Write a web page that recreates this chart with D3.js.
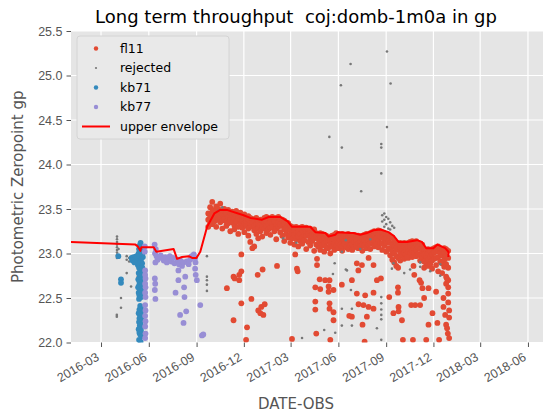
<!DOCTYPE html>
<html>
<head>
<meta charset="utf-8">
<script src="https://cdn.jsdelivr.net/npm/d3@7"></script>
<style>
  body { margin: 0; background: #fff; }
  svg { font-family: "DejaVu Sans", sans-serif; }
  .grid line { stroke: #fff; stroke-width: 1.2; }
  .tick-label { fill: #555; font-size: 12.5px; }
  .title { white-space: pre; }
</style>
</head>
<body>
<script>
const WIDTH = 543;
const HEIGHT = 419;
const LEFT = 71, RIGHT = 543, TOP = 31, BOTTOM = 342.5;

// dates are decimal years
var xDomain = [2016.006, 2018.493];
var yDomain = [22.0, 25.5];
var yTicks = [22.0, 22.5, 23.0, 23.5, 24.0, 24.5, 25.0, 25.5];
var xTickLabels = ['2016-03','2016-06','2016-09','2016-12','2017-03','2017-06','2017-09','2017-12','2018-03','2018-06'];

var envelope = [
  [2016.006,23.13],[2016.345,23.10],[2016.357,23.08],[2016.371,23.03],[2016.376,23.07],
  [2016.441,23.07],[2016.455,23.02],[2016.546,23.05],[2016.564,22.94],[2016.590,22.96],
  [2016.625,22.97],[2016.643,22.95],[2016.666,22.95],[2016.686,23.02],[2016.722,23.30],
  [2016.760,23.45],[2016.791,23.49],[2016.826,23.49],[2016.914,23.43],[2016.949,23.40],
  [2017.011,23.38],[2017.046,23.41],[2017.107,23.41],[2017.146,23.36],[2017.169,23.30],
  [2017.265,23.30],[2017.292,23.24],[2017.345,23.23],[2017.362,23.19],[2017.397,23.21],
  [2017.410,23.24],[2017.476,23.23],[2017.493,23.23],[2017.529,23.21],[2017.564,23.23],
  [2017.599,23.26],[2017.635,23.27],[2017.678,23.24],[2017.705,23.20],[2017.731,23.13],
  [2017.775,23.13],[2017.828,23.15],[2017.854,23.13],[2017.877,23.06],[2017.915,23.06],
  [2017.936,23.10],[2017.977,23.06],[2017.994,23.02],[2017.994,22.96]
];

// fl11: nights in the main band, several exposures per night
var fl11Nights = [
  [2016.728,[23.45,23.38,23.30]],[2016.738,[23.52,23.42,23.34]],[2016.749,[23.58,23.47,23.40,23.33]],
  [2016.760,[23.49,23.44,23.36]],[2016.770,[23.53,23.46,23.41,23.30]],[2016.781,[23.50,23.43,23.38]],
  [2016.791,[23.56,23.47,23.40,23.35]],[2016.802,[23.48,23.44,23.37,23.28]],[2016.812,[23.50,23.42,23.39]],
  [2016.823,[23.47,23.45,23.36,23.31]],[2016.833,[23.49,23.41,23.34]],[2016.844,[23.46,23.40,23.38,23.25]],
  [2016.854,[23.47,23.43,23.35]],[2016.865,[23.45,23.39,23.32,23.27]],[2016.875,[23.48,23.42,23.36]],
  [2016.886,[23.44,23.40,23.30,23.22]],[2016.897,[23.46,23.38,23.33]],[2016.907,[23.43,23.37,23.29]],
  [2016.918,[23.44,23.40,23.34,23.24]],[2016.928,[23.41,23.36,23.31]],[2016.939,[23.42,23.38,23.28,23.20]],
  [2016.949,[23.40,23.34,23.13]],[2016.960,[23.39,23.35,23.30,23.06]],[2016.970,[23.38,23.31,23.26,23.08]],
  [2016.981,[23.40,23.33,23.22]],[2016.991,[23.37,23.34,23.28,23.17]],[2017.002,[23.38,23.32,23.25]],
  [2017.012,[23.37,23.30,23.19]],[2017.023,[23.40,23.35,23.28]],[2017.034,[23.41,23.36,23.31,23.23]],
  [2017.044,[23.40,23.33,23.27]],[2017.055,[23.39,23.35,23.29,23.21]],[2017.065,[23.41,23.34,23.30]],
  [2017.076,[23.38,23.36,23.25]],[2017.086,[23.40,23.32,23.28,23.16]],[2017.097,[23.41,23.35,23.30]],
  [2017.107,[23.39,23.33,23.24]],[2017.118,[23.38,23.31,23.20]],[2017.128,[23.37,23.33,23.27,23.14]],
  [2017.139,[23.35,23.29,23.22]],[2017.149,[23.34,23.27,23.18]],[2017.160,[23.31,23.26,23.20,23.12]],
  [2017.170,[23.30,23.24,23.17]],[2017.181,[23.29,23.26,23.21,23.10]],[2017.191,[23.30,23.23,23.16]],
  [2017.202,[23.28,23.25,23.19,23.08]],[2017.213,[23.29,23.22,23.14]],[2017.223,[23.30,23.26,23.18,23.11]],
  [2017.234,[23.28,23.21,23.15]],[2017.244,[23.29,23.24,23.20,23.05]],[2017.255,[23.27,23.22,23.13]],
  [2017.265,[23.28,23.25,23.18,23.09]],[2017.276,[23.26,23.20,23.14]],[2017.286,[23.27,23.22,23.17,23.03]],
  [2017.297,[23.23,23.19,23.10]],[2017.307,[23.22,23.16,23.08]],[2017.318,[23.23,23.18,23.12,23.04]],
  [2017.329,[23.22,23.15,23.09]],[2017.339,[23.21,23.17,23.11,23.02]],[2017.350,[23.20,23.14,23.07]],
  [2017.360,[23.18,23.13,23.06]],[2017.371,[23.19,23.15,23.10,23.00]],[2017.381,[23.20,23.14,23.08]],
  [2017.392,[23.21,23.16,23.11,23.04]],[2017.402,[23.23,23.17,23.09]],[2017.413,[23.22,23.18,23.12,23.06]],
  [2017.424,[23.21,23.15,23.10]],[2017.434,[23.22,23.17,23.08,23.03]],[2017.445,[23.20,23.14,23.11]],
  [2017.455,[23.21,23.16,23.07]],[2017.466,[23.22,23.18,23.12,23.05]],[2017.476,[23.21,23.15,23.09]],
  [2017.487,[23.20,23.16,23.10,23.04]],[2017.497,[23.21,23.13,23.07]],[2017.508,[23.19,23.14,23.09]],
  [2017.518,[23.20,23.15,23.11,23.06]],[2017.529,[23.18,23.13,23.08]],[2017.540,[23.20,23.16,23.10,23.03]],
  [2017.550,[23.21,23.15,23.09]],[2017.561,[23.22,23.17,23.12,23.06]],[2017.571,[23.21,23.14,23.10]],
  [2017.582,[23.23,23.18,23.11,23.05]],[2017.592,[23.24,23.19,23.13]],[2017.603,[23.25,23.20,23.15,23.08]],
  [2017.613,[23.23,23.17,23.10]],[2017.624,[23.26,23.21,23.14,23.07]],[2017.635,[23.25,23.19,23.12]],
  [2017.645,[23.24,23.18,23.11,23.04]],[2017.656,[23.23,23.16,23.09]],[2017.666,[23.22,23.17,23.12,23.02]],
  [2017.677,[23.21,23.14,23.06]],[2017.687,[23.19,23.12,23.05,22.98]],[2017.698,[23.18,23.10,23.02,22.93]],
  [2017.708,[23.15,23.08,23.00,22.90]],[2017.719,[23.12,23.06,22.97,22.86]],[2017.729,[23.11,23.04,22.95,22.84]],
  [2017.740,[23.12,23.07,23.00,22.92]],[2017.750,[23.11,23.05,22.98]],[2017.761,[23.12,23.08,23.01,22.94]],
  [2017.771,[23.11,23.04,22.99]],[2017.782,[23.12,23.07,23.02,22.95]],[2017.792,[23.13,23.08,23.00]],
  [2017.803,[23.14,23.09,23.03,22.96]],[2017.813,[23.13,23.06,23.01]],[2017.824,[23.14,23.10,23.04,22.97]],
  [2017.834,[23.12,23.07,22.99]],[2017.845,[23.11,23.05,22.98,22.92]],[2017.856,[23.10,23.03,22.95]],
  [2017.866,[23.05,22.99,22.91,22.84]],[2017.877,[23.04,22.97,22.89]],[2017.887,[23.05,23.00,22.93,22.86]],
  [2017.898,[23.03,22.96,22.88]],[2017.908,[23.05,22.99,22.92,22.83]],[2017.919,[23.06,23.01,22.94]],
  [2017.929,[23.07,23.02,22.95,22.87]],[2017.940,[23.08,23.03,22.96,22.80]],[2017.951,[23.06,23.00,22.91]],
  [2017.961,[23.05,22.98,22.89,22.78]],[2017.972,[23.06,23.01,22.93,22.85]],
  [2017.982,[23.05,22.97,22.88,22.74,22.66]],[2017.993,[23.03,22.95,22.84,22.70,22.62,22.55,22.45]]
];

// fl11: exposures well below the band
var fl11Low = [
  [2016.826,22.61],[2016.861,22.74],[2016.861,22.25],[2016.867,22.72],[2016.891,22.70],[2016.891,22.76],
  [2016.902,22.99],[2016.902,22.80],[2016.902,22.44],[2016.932,22.17],[2016.927,22.03],[2016.955,22.49],
  [2016.988,22.76],[2017.014,22.82],[2016.991,22.36],[2017.002,22.33],[2017.007,22.40],[2017.018,22.31],
  [2017.025,22.43],[2017.090,22.86],[2017.169,22.04],[2017.186,22.99],[2017.195,22.83],[2017.199,22.80],
  [2017.301,22.94],[2017.301,22.87],[2017.315,22.71],[2017.292,22.62],[2017.318,22.60],[2017.292,22.46],
  [2017.292,22.37],[2017.297,22.10],[2017.344,22.70],[2017.367,22.70],[2017.362,22.63],[2017.362,22.57],
  [2017.367,22.44],[2017.367,22.38],[2017.388,22.59],[2017.388,22.34],[2017.388,22.25],[2017.371,22.03],
  [2017.432,22.65],[2017.511,22.89],[2017.519,22.81],[2017.538,22.87],[2017.485,22.70],[2017.485,22.29],
  [2017.471,22.30],[2017.511,22.55],[2017.555,22.53],[2017.546,22.42],[2017.520,22.43],[2017.573,22.40],
  [2017.599,22.38],[2017.599,22.56],[2017.599,22.87],[2017.573,22.95],[2017.617,22.70],[2017.638,22.72],
  [2017.541,22.20],[2017.564,22.29],[2017.552,22.01],[2017.682,22.51],[2017.704,22.33],[2017.728,22.62],
  [2017.728,22.56],[2017.731,22.40],[2017.731,22.35],[2017.749,22.25],[2017.754,22.03],[2017.775,22.96],
  [2017.810,22.86],[2017.814,22.76],[2017.798,22.42],[2017.819,22.42],[2017.845,22.42],[2017.807,22.03],
  [2017.842,22.70],[2017.850,22.67],[2017.857,22.61],[2017.866,22.50],[2017.889,22.61],[2017.877,22.03],
  [2017.889,22.20],[2017.910,22.33],[2017.929,22.57],[2017.936,22.22],[2017.945,22.03],[2017.968,22.40],
  [2017.977,22.31],[2017.982,22.20],[2017.991,22.10],[2017.986,22.72],[2017.968,22.50],[2017.998,22.36],
  [2017.998,22.28],[2017.987,22.16],[2017.998,22.05]
];

var rejected = [
  [2016.248,23.19],[2016.248,23.16],[2016.248,23.13],[2016.248,23.10],[2016.248,23.07],[2016.248,23.04],
  [2016.248,23.01],[2016.248,22.98],[2016.248,22.95],[2016.256,23.05],[2016.256,22.96],[2016.269,22.69],
  [2016.269,22.66],[2016.269,22.50],[2016.269,22.39],[2016.247,22.31],[2016.247,22.29],[2016.299,22.78],
  [2016.299,22.97],[2016.299,22.93],[2016.312,22.95],[2016.312,22.91],[2016.322,22.63],[2016.322,22.96],
  [2016.322,22.92],[2016.338,22.94],[2016.357,22.74],[2016.364,22.80],[2016.364,22.55],
  [2016.721,22.97],[2016.721,22.74],[2016.721,22.70],[2016.721,22.65],[2016.721,22.58],
  [2016.781,23.48],[2016.802,23.52],[2017.122,23.17],[2017.192,23.12],[2017.222,22.05],[2017.339,22.14],
  [2017.385,22.77],[2017.394,22.89],[2017.397,22.11],[2017.432,23.02],[2017.453,23.15],[2017.453,22.82],
  [2017.459,22.81],[2017.480,22.59],[2017.485,22.38],[2017.485,22.19],[2017.432,22.38],[2017.432,22.19],
  [2017.640,22.51],[2017.640,22.44],[2017.640,22.37],[2017.640,22.31],[2017.640,22.26],[2017.617,22.16],
  [2017.640,22.03],[2017.696,22.83],[2017.704,22.89],
  [2017.645,23.43],[2017.645,23.36],[2017.656,23.45],[2017.656,23.38],[2017.656,23.30],[2017.666,23.41],
  [2017.666,23.33],[2017.677,23.39],[2017.677,23.28],[2017.687,23.35],[2017.687,23.27],[2017.698,23.31],
  [2017.708,23.29],[2017.529,23.05],[2017.582,23.16],[2017.845,22.90],[2017.845,22.85],[2017.898,22.80],
  [2017.951,22.88],[2017.951,22.75],[2017.792,22.82],[2017.761,22.78],
  [2017.670,25.27],[2017.478,25.13],[2017.427,24.89],[2017.689,24.91],[2017.670,24.42],[2017.366,24.31],
  [2017.432,24.19],[2017.640,24.23],[2017.640,24.19],[2017.640,23.90],[2017.534,23.70]
];

var kb71 = [
  [2016.372,23.12],[2016.368,23.09],[2016.376,23.07],[2016.364,23.05],[2016.380,23.04],[2016.370,23.02],
  [2016.362,23.00],[2016.378,22.99],[2016.368,22.97],[2016.384,22.96],[2016.360,22.94],[2016.374,22.93],
  [2016.366,22.91],[2016.380,22.89],[2016.358,22.87],[2016.372,22.86],[2016.364,22.84],[2016.378,22.82],
  [2016.370,22.80],[2016.362,22.78],[2016.376,22.77],[2016.368,22.75],[2016.382,22.73],[2016.360,22.71],
  [2016.372,22.70],[2016.366,22.68],[2016.378,22.66],[2016.364,22.64],[2016.374,22.62],[2016.368,22.60],
  [2016.380,22.58],[2016.362,22.56],[2016.372,22.55],[2016.366,22.53],[2016.376,22.51],[2016.364,22.49],
  [2016.370,22.41],[2016.374,22.39],[2016.366,22.37],[2016.378,22.35],[2016.362,22.33],[2016.370,22.31],
  [2016.374,22.29],[2016.366,22.27],[2016.380,22.25],[2016.364,22.23],[2016.372,22.21],[2016.368,22.19],
  [2016.376,22.17],[2016.362,22.15],[2016.374,22.13],[2016.366,22.11],[2016.370,22.09],[2016.378,22.07],
  [2016.364,22.03],[2016.372,22.01],[2016.360,22.98],[2016.383,23.01],[2016.358,22.90],[2016.381,22.84],
  [2016.359,22.62],[2016.269,22.71],[2016.269,22.67],[2016.255,22.97],[2016.325,22.95],[2016.335,22.96],
  [2016.345,22.94],[2016.350,22.97],[2016.330,22.92],[2016.340,22.90]
];

var kb77 = [
  [2016.396,22.81],[2016.396,22.76],[2016.398,22.72],[2016.396,22.66],[2016.398,22.62],[2016.396,22.56],
  [2016.398,22.51],[2016.396,22.42],[2016.398,22.36],[2016.396,22.30],[2016.398,22.24],[2016.396,22.18],
  [2016.398,22.10],[2016.396,22.05],[2016.394,23.08],[2016.394,23.02],
  [2016.446,23.10],[2016.452,23.05],[2016.448,23.00],[2016.456,22.97],[2016.462,22.93],[2016.450,22.90],
  [2016.447,22.72],[2016.449,22.66],[2016.447,22.59],[2016.450,22.49],
  [2016.478,22.98],[2016.486,22.95],[2016.494,22.92],[2016.502,22.96],[2016.510,22.90],[2016.518,22.94],
  [2016.526,22.97],[2016.534,22.91],[2016.542,22.95],[2016.550,22.89],[2016.556,22.56],
  [2016.566,22.93],[2016.574,22.88],[2016.571,22.81],[2016.571,22.70],[2016.582,22.92],[2016.590,22.86],
  [2016.598,22.90],[2016.607,22.74],[2016.601,22.62],[2016.603,22.51],[2016.580,22.31],[2016.598,22.22],
  [2016.612,22.35],[2016.615,22.91],[2016.625,22.88],
  [2016.633,22.93],[2016.640,22.97],[2016.652,22.99],[2016.659,22.95],[2016.661,22.90],[2016.659,22.83],
  [2016.662,22.76],[2016.668,22.70],[2016.686,22.42],[2016.695,22.08],[2016.702,22.09]
];

var COLORS = { fl11: '#E24A33', rejected: '#777777', kb71: '#348ABD', kb77: '#988ED5', env: '#ff0000' };

var yearToDate = function(yr){
  var y = Math.floor(yr);
  var a = Date.UTC(y,0,1), b = Date.UTC(y+1,0,1);
  return new Date(a + (yr-y)*(b-a));
};

var svg = d3.select('body').append('svg').attr('width',WIDTH).attr('height',HEIGHT);

var x = d3.scaleUtc().domain(xDomain.map(yearToDate)).range([LEFT,RIGHT]);
var y = d3.scaleLinear().domain(yDomain).range([BOTTOM,TOP]);
var parseMonth = d3.utcParse('%Y-%m');
var xTicks = xTickLabels.map(parseMonth);

svg.append('rect').attr('x',LEFT).attr('y',TOP).attr('width',RIGHT-LEFT).attr('height',BOTTOM-TOP).attr('fill','#E5E5E5');

svg.append('defs').append('clipPath').attr('id','plotclip')
  .append('rect').attr('x',LEFT).attr('y',TOP).attr('width',RIGHT-LEFT).attr('height',BOTTOM-TOP);

var grid = svg.append('g').classed('grid',true);
grid.selectAll('.gx').data(xTicks).enter().append('line')
  .attr('x1',function(d){return x(d)}).attr('x2',function(d){return x(d)})
  .attr('y1',TOP).attr('y2',BOTTOM);
grid.selectAll('.gy').data(yTicks).enter().append('line')
  .attr('x1',LEFT).attr('x2',RIGHT)
  .attr('y1',function(d){return y(d)}).attr('y2',function(d){return y(d)});

// axes (ggplot look: no spine, grey ticks)
var xAxis = d3.axisBottom(x).tickValues(xTicks).tickSize(4.5).tickFormat(function(d,i){return xTickLabels[i]});
var gx = svg.append('g').attr('transform','translate(0,'+BOTTOM+')').call(xAxis);
gx.select('.domain').remove();
gx.selectAll('.tick line').attr('stroke','#555');
gx.selectAll('.tick text')
  .attr('class','tick-label').attr('font-family',null).attr('font-size',null)
  .attr('text-anchor','end').attr('dy',null).attr('y',0)
  .attr('transform','translate(-1.5,17) rotate(-30)');

var yAxis = d3.axisLeft(y).tickValues(yTicks).tickSize(4.5).tickFormat(d3.format('.1f'));
var gy = svg.append('g').attr('transform','translate('+LEFT+',0)').call(yAxis);
gy.select('.domain').remove();
gy.selectAll('.tick line').attr('stroke','#555');
gy.selectAll('.tick text').attr('class','tick-label').attr('font-family',null).attr('font-size',null).attr('x',-8.5);

var plot = svg.append('g').attr('clip-path','url(#plotclip)');

var fl11 = [];
fl11Nights.forEach(function(n){ n[1].forEach(function(v){ fl11.push([n[0],v]); }); });
fl11 = fl11.concat(fl11Low);

var drawPoints = function(data, color, r){
  plot.append('g').selectAll('circle').data(data).enter().append('circle')
    .attr('cx',function(d){return x(yearToDate(d[0]))})
    .attr('cy',function(d){return y(d[1])})
    .attr('r',r).attr('fill',color);
};
drawPoints(fl11, COLORS.fl11, 2.9);
drawPoints(rejected, COLORS.rejected, 1.3);
drawPoints(kb71, COLORS.kb71, 2.9);
drawPoints(kb77, COLORS.kb77, 2.9);

var envLine = d3.line().x(function(d){return x(yearToDate(d[0]))}).y(function(d){return y(d[1])});
plot.append('path').attr('d',envLine(envelope)).attr('fill','none')
  .attr('stroke',COLORS.env).attr('stroke-width',2).attr('stroke-linejoin','round');

// title and labels
svg.append('text').classed('title',true).attr('x',296).attr('y',23).attr('text-anchor','middle')
  .attr('font-size',18).attr('fill','#000').text('Long term throughput  coj:domb-1m0a in gp');
svg.append('text').attr('x',296).attr('y',409).attr('text-anchor','middle')
  .attr('font-size',15).attr('fill','#555').text('DATE-OBS');
svg.append('text').attr('transform','translate(23,'+((TOP+BOTTOM)/2)+') rotate(-90)')
  .attr('text-anchor','middle').attr('font-size',15).attr('fill','#555').text('Photometric Zeropoint gp');

// legend
var legendItems = [
  {label:'fl11', type:'dot', color:COLORS.fl11, r:2.2},
  {label:'rejected', type:'dot', color:COLORS.rejected, r:1.1},
  {label:'kb71', type:'dot', color:COLORS.kb71, r:2.2},
  {label:'kb77', type:'dot', color:COLORS.kb77, r:2.2},
  {label:'upper envelope', type:'line', color:COLORS.env}
];
var legend = svg.append('g').attr('transform','translate(77,36)');
legend.append('rect').attr('width',152).attr('height',103).attr('rx',3)
  .attr('fill','#E9E9E9').attr('stroke','#d4d4d4').attr('stroke-width',1);
var li = legend.selectAll('.li').data(legendItems).enter().append('g')
  .attr('transform',function(d,i){return 'translate(0,'+(12.5+i*19.5)+')'});
li.filter(function(d){return d.type==='dot'}).append('circle')
  .attr('cx',19).attr('cy',0).attr('r',function(d){return d.r}).attr('fill',function(d){return d.color});
li.filter(function(d){return d.type==='line'}).append('line')
  .attr('x1',5).attr('x2',33).attr('y1',0).attr('y2',0).attr('stroke',function(d){return d.color}).attr('stroke-width',2);
li.append('text').attr('x',43).attr('y',0).attr('dy','0.35em').attr('font-size',12.5).attr('fill','#000')
  .text(function(d){return d.label});
</script>
</body>
</html>
